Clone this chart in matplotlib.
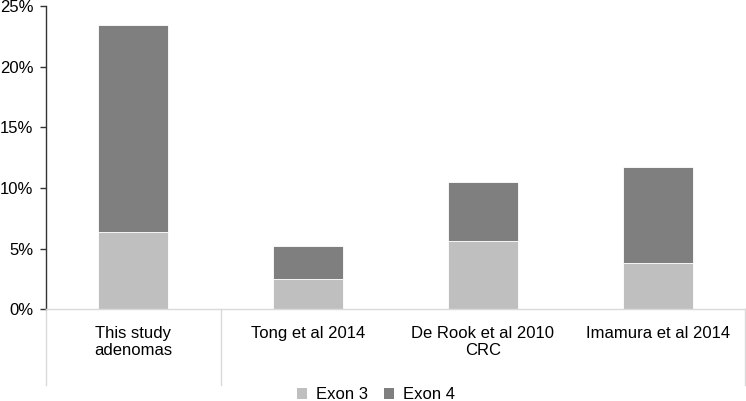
import numpy as np
import matplotlib
matplotlib.use('Agg')
import matplotlib.pyplot as plt
from matplotlib.patches import Patch
import matplotlib.transforms as mtransforms

COLORS = ['#bfbfbf', '#7f7f7f']

categories = ['This study\nadenomas', 'Tong et al 2014', 'De Rook et al 2010\nCRC', 'Imamura et al 2014']
exon3 = [6.4, 2.5, 5.6, 3.8]
exon4 = [17.0, 2.7, 4.9, 7.9]
series_names = ['Exon 3', 'Exon 4']
y_ticks = [0, 5, 10, 15, 20, 25]


def plot():
    plt.rcParams['font.family'] = ['Liberation Sans', 'DejaVu Sans']
    plt.rcParams['font.size'] = 12

    fig = plt.figure(figsize=(7.46, 4.01), dpi=100)
    ax = fig.add_axes([0.0613, 0.2287, 0.9374, 0.7563])

    x = np.arange(len(categories))
    WIDTH = 0.4

    ax.bar(x, exon3, width=WIDTH, color=COLORS[0], edgecolor='white', linewidth=0.6)
    ax.bar(x, exon4, width=WIDTH, bottom=exon3, color=COLORS[1], edgecolor='white', linewidth=0.6)

    ax.set_xlim(-0.5, len(categories) - 0.5)
    ax.set_ylim(0, 25)
    ax.set_yticks(y_ticks)
    ax.set_yticklabels([f'{t}%' for t in y_ticks])
    ax.set_xticks(x)
    ax.set_xticklabels(categories, linespacing=1.15)

    ax.tick_params(axis='y', length=4, width=1, color='#333333', pad=5)
    ax.tick_params(axis='x', length=0, pad=12)

    for side in ['top', 'right']:
        ax.spines[side].set_visible(False)
    ax.spines['left'].set_color('#333333')
    ax.spines['left'].set_linewidth(1)
    ax.spines['bottom'].set_color('#d9d9d9')
    ax.spines['bottom'].set_linewidth(1)

    # category separators below the axis
    trans = mtransforms.blended_transform_factory(ax.transData, ax.transAxes)
    for xs in [-0.5, 0.5, len(categories) - 0.5]:
        ax.plot([xs, xs], [0, -0.25], transform=trans, color='#d9d9d9',
                linewidth=1, clip_on=False)

    handles = [Patch(facecolor=c, edgecolor='none') for c in COLORS]
    fig.legend(handles, series_names, loc='center', bbox_to_anchor=(0.504, 0.016),
               ncol=2, frameon=False, handlelength=0.6, handleheight=0.6,
               handletextpad=0.5, columnspacing=1.0, borderpad=0, borderaxespad=0)

    fig.savefig('out.png', dpi=100)


plot()
